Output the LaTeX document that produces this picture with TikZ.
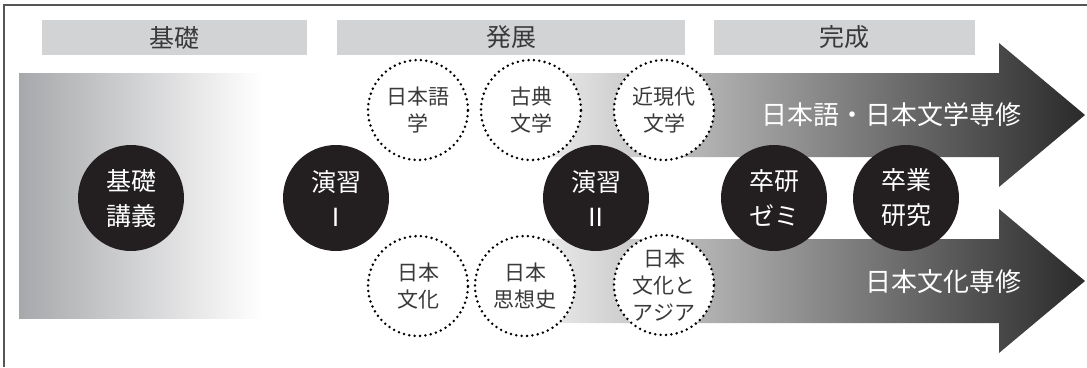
\documentclass[tikz,border=0pt]{standalone}
\usepackage{fontspec}
\setmainfont{Noto Sans CJK JP}
\definecolor{barfill}{HTML}{D1D3D4}
\definecolor{diskfill}{HTML}{231F20}
\definecolor{ink}{HTML}{3A3A3A}
\definecolor{framecol}{HTML}{555555}
\definecolor{fadegray}{HTML}{A7A8AB}
\definecolor{arrowlight}{HTML}{ECECEC}
\definecolor{arrowmid}{HTML}{505052}
\definecolor{arrowdark}{HTML}{2A2A2A}
\begin{document}
\begin{tikzpicture}[x=1pt,y=-1pt,
  bar/.style={fill=barfill,text=ink,minimum height=35pt,inner sep=0pt,font=\fontsize{25}{30}\selectfont},
  disk/.style={circle,fill=diskfill,text=white,minimum size=106pt,inner sep=0pt,align=center,font=\fontsize{25}{35}\selectfont},
  topic/.style={circle,draw=black,fill=white,line width=2.8pt,dash pattern=on 0pt off 5.4pt,line cap=round,minimum size=100pt,inner sep=0pt,align=center,text=ink,font=\fontsize{21}{27}\selectfont},
  major/.style={text=white,inner sep=0pt,font=\fontsize{26}{30}\selectfont},
  bigarrow/.style={left color=arrowlight,middle color=arrowmid,right color=arrowdark}]
\useasboundingbox (0,0) rectangle (1087,367);

% frame
\draw[framecol,line width=1.2pt] (4,367) -- (4,5) -- (1087,5);

% stage bars
\node[bar,minimum width=265pt] (kisobar) at (174.5,37.5) {基礎};
\node[bar,minimum width=348pt] (hattenbar) at (511,37.5) {発展};
\node[bar,minimum width=261pt] (kanseibar) at (844.5,37.5) {完成};

% fading band behind the basics
\shade[left color=fadegray,right color=white] (19,73) rectangle (262,318);

% the two majors
\shade[bigarrow] (540,73) -- (999,73) -- (999,43) -- (1085,115) -- (999,187) -- (999,157) -- (540,157) -- cycle;
\shade[bigarrow] (540,239) -- (999,239) -- (999,209) -- (1085,281) -- (999,353) -- (999,323) -- (540,323) -- cycle;
\node[major] (jlit) at (891,115) {日本語・日本文学専修};
\node[major] (jcul) at (943,282) {日本文化専修};

% subjects
\node[topic] (gogaku) at (418,110) {日本語\\学};
\node[topic] (koten) at (531,110) {古典\\文学};
\node[topic] (kindai) at (664,110) {近現代\\文学};
\node[topic] (bunka) at (418,286) {日本\\文化};
\node[topic] (shiso) at (525,286) {日本\\思想史};
\node[topic] (asia) at (664,285) {日本\\文化と\\アジア};

% courses
\node[disk] (kogi) at (131,198) {基礎\\講義};
\node[disk] (ensyu1) at (336,198) {演習\\Ⅰ};
\node[disk] (ensyu2) at (596,198) {演習\\Ⅱ};
\node[disk] (zemi) at (774,198) {卒研\\ゼミ};
\node[disk] (sotsuron) at (906,198) {卒業\\研究};
\end{tikzpicture}
\end{document}
